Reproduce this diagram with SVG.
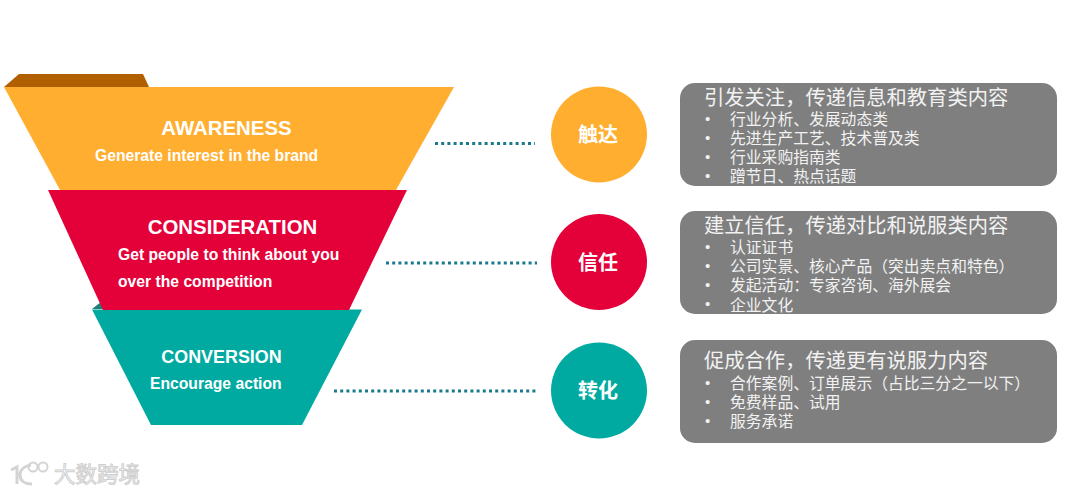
<svg xmlns="http://www.w3.org/2000/svg" width="1080" height="494" viewBox="0 0 1080 494">
<style>
.h{font:bold 20.400px "Liberation Sans",Arial,sans-serif;fill:#fff;text-anchor:middle}
.s{font:bold 15.700px "Liberation Sans",Arial,sans-serif;fill:#fff}
.c{font:bold 20px "Noto Sans CJK SC",sans-serif;fill:#fff;text-anchor:middle}
.t{font:20.300px "Noto Sans CJK SC",sans-serif;fill:#f2f2f2}
.b{font:15.800px "Noto Sans CJK SC",sans-serif;fill:#f2f2f2}
.d{font:15px "Liberation Sans",sans-serif;fill:#f2f2f2}
.box{fill:#7f7f7f}
.dot{fill:none;stroke:#1a7a8c;stroke-width:3;stroke-dasharray:3 3.200}
.w{fill:none;stroke:#d4d4d4}
</style>
<rect width="1080" height="494" fill="#fff"/>
<g id="connectors">
<line class="dot" x1="435" y1="143.500" x2="535" y2="143.500"/>
<line class="dot" x1="386" y1="263" x2="537" y2="263"/>
<line class="dot" x1="334" y1="391" x2="537" y2="391"/>
</g>
<g id="funnel-awareness">
<polygon points="4,87 19,74 143,74 149,87" fill="#b06000"/>
<polygon points="4,87 454,87 396,190 60,190" fill="#ffae2f"/>
<text class="h" x="226.500" y="135">AWARENESS</text>
<text class="s" x="95" y="161">Generate interest in the brand</text>
</g>
<g id="funnel-conversion">
<polygon points="92,309 101,302 110,309" fill="#1f8078"/>
<polygon points="92,309.500 362,309.500 302,425 151,425" fill="#00aaa0"/>
<text class="h" x="221.500" y="363" style="font-size:17.900px">CONVERSION</text>
<text class="s" x="150" y="389">Encourage action</text>
</g>
<g id="funnel-consideration">
<polygon points="48,190 407,190 349,310 103,310" fill="#e40038"/>
<text class="h" x="232.500" y="234">CONSIDERATION</text>
<text class="s" x="118" y="260">Get people to think about you</text>
<text class="s" x="118" y="287">over the competition</text>
</g>
<g id="circle-1"><circle cx="599" cy="134.500" r="48" fill="#ffae2f"/><text class="c" x="598" y="142">触达</text></g>
<g id="circle-2"><circle cx="599" cy="262" r="48" fill="#e40038"/><text class="c" x="598" y="270">信任</text></g>
<g id="circle-3"><circle cx="599" cy="390.500" r="48" fill="#00aaa0"/><text class="c" x="598" y="398">转化</text></g>
<g id="box-1">
<rect class="box" x="680" y="83" width="377" height="103" rx="15"/>
<text class="t" x="704" y="105">引发关注，传递信息和教育类内容</text>
<text class="d" x="705" y="124">•</text><text class="b" x="730" y="125">行业分析、发展动态类</text>
<text class="d" x="705" y="143">•</text><text class="b" x="730" y="144">先进生产工艺、技术普及类</text>
<text class="d" x="705" y="162">•</text><text class="b" x="730" y="163">行业采购指南类</text>
<text class="d" x="705" y="181">•</text><text class="b" x="730" y="182">蹭节日、热点话题</text>
</g>
<g id="box-2">
<rect class="box" x="680" y="211" width="377" height="103" rx="15"/>
<text class="t" x="704" y="233">建立信任，传递对比和说服类内容</text>
<text class="d" x="705" y="252">•</text><text class="b" x="730" y="253">认证证书</text>
<text class="d" x="705" y="271">•</text><text class="b" x="730" y="272">公司实景、核心产品（突出卖点和特色）</text>
<text class="d" x="705" y="290">•</text><text class="b" x="730" y="291">发起活动：专家咨询、海外展会</text>
<text class="d" x="705" y="309">•</text><text class="b" x="730" y="311">企业文化</text>
</g>
<g id="box-3">
<rect class="box" x="680" y="340" width="377" height="103" rx="15"/>
<text class="t" x="704" y="368">促成合作，传递更有说服力内容</text>
<text class="d" x="705" y="388">•</text><text class="b" x="730" y="389">合作案例、订单展示（占比三分之一以下）</text>
<text class="d" x="705" y="407">•</text><text class="b" x="730" y="408">免费样品、试用</text>
<text class="d" x="705" y="426">•</text><text class="b" x="730" y="427">服务承诺</text>
</g>
<g id="watermark">
<path class="w" stroke-width="3" d="M11 470l6-3v17M31 465c-7 1-11 5-11 10 0 6 5 9 12 9"/>
<circle class="w" cx="33" cy="467" r="4.500" stroke-width="2"/>
<circle class="w" cx="43" cy="467" r="4.500" stroke-width="2"/>
<text x="54" y="482" style="font:21.500px 'Noto Sans CJK SC',sans-serif;fill:#fff;stroke:#cfcfcf;stroke-width:1">大数跨境</text>
</g>
</svg>
